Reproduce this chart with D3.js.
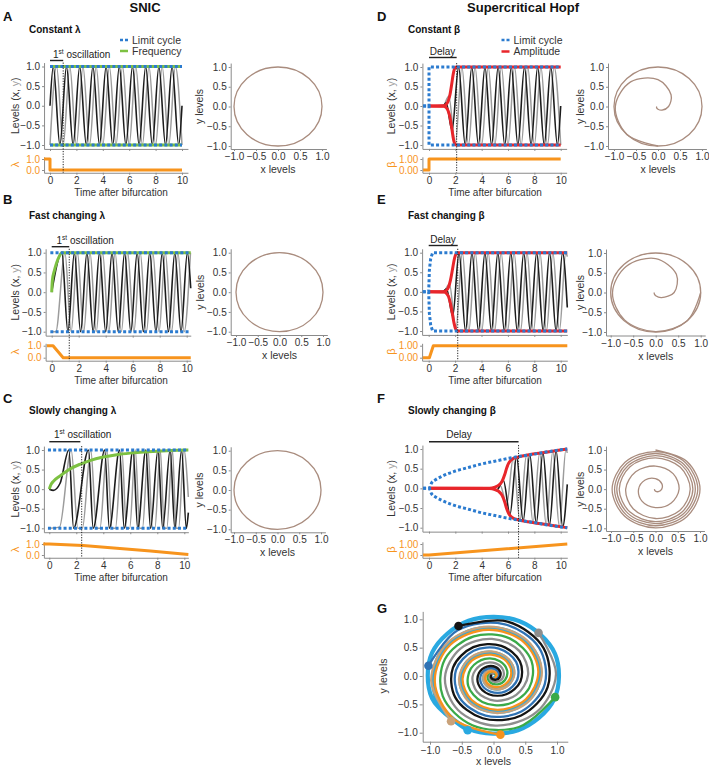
<!DOCTYPE html>
<html><head><meta charset="utf-8">
<script src="https://cdn.jsdelivr.net/npm/d3@7"></script>
<style>body{margin:0;background:#fff}</style>
</head><body><svg id="c" width="709" height="766" xmlns="http://www.w3.org/2000/svg"></svg>
<script>
// ---------------- DATA ----------------
const timeTicks = [0, 2, 4, 6, 8, 10];
const levelTicks = [-1, -0.5, 0, 0.5, 1];
const subTicks = [0, 1];

// SNIC panel A (constant lambda)
const aX = [[0,0],[0.25,1],[0.75,-1],[1.25,1],[1.75,-1],[2.25,1],[2.75,-1],[3.25,1],[3.75,-1],[4.25,1],[4.75,-1],[5.25,1],[5.75,-1],[6.25,1],[6.75,-1],[7.25,1],[7.75,-1],[8.25,1],[8.75,-1],[9.25,1],[9.75,-1],[10,0]];
const aY = [[0,-1],[0.5,1],[1,-1],[1.5,1],[2,-1],[2.5,1],[3,-1],[3.5,1],[4,-1],[4.5,1],[5,-1],[5.5,1],[6,-1],[6.5,1],[7,-1],[7.5,1],[8,-1],[8.5,1],[9,-1],[9.5,1],[10,-1]];
const aFreq = [[0,1],[10,1]];
const aCycle = [[0,1],[10,1]];
const aLambda = [[-0.45,1],[0,1],[0,0],[10,0]];

// SNIC panel B (fast changing lambda)
const bX = [[0,0],[0.75,1],[1.2,-1],[1.68,1],[2.14,-1],[2.61,1],[3.07,-1],[3.54,1],[4.0,-1],[4.47,1],[4.93,-1],[5.4,1],[5.86,-1],[6.33,1],[6.79,-1],[7.26,1],[7.72,-1],[8.19,1],[8.65,-1],[9.12,1],[9.58,-1],[10.05,1],[10.3,0.1]];
const bY = [[0,-1],[0.3,-1],[0.98,1],[1.44,-1],[1.91,1],[2.37,-1],[2.84,1],[3.3,-1],[3.77,1],[4.23,-1],[4.7,1],[5.16,-1],[5.63,1],[6.09,-1],[6.56,1],[7.02,-1],[7.49,1],[7.95,-1],[8.42,1],[8.88,-1],[9.35,1],[9.81,-1],[10.28,1]];
const bFreq = [[0,0],[0.05,0.3],[0.2,0.55],[0.35,0.73],[0.55,0.9],[0.75,1],[10.3,1]];
const bCycle = [[-0.1,1],[10.3,1]];
const bLambda = [[-0.35,1],[0.1,1],[0.85,0],[10.3,0]];

// SNIC panel C (slowly changing lambda)
const cX = [[0,0],[0.3,-0.03],[0.8,0.15],[1.45,1],[1.8,-1],[2.9,1],[3.25,-1],[4.1,1],[4.45,-1],[5.2,1],[5.55,-1],[6.2,1],[6.55,-1],[7.15,1],[7.5,-1],[8.05,1],[8.4,-1],[8.95,1],[9.3,-1],[9.8,1],[10.15,-1],[10.3,-0.6]];
const cY = [[0,-1],[0.75,-0.97],[1.62,1],[2.12,-1],[2.45,-1],[3.07,1],[3.5,-1],[3.75,-1],[4.27,1],[4.65,-1],[4.9,-1],[5.37,1],[5.72,-1],[5.95,-1],[6.37,1],[6.7,-1],[6.9,-1],[7.32,1],[7.63,-1],[7.82,-1],[8.22,1],[8.52,-1],[8.7,-1],[9.12,1],[9.4,-1],[9.58,-1],[9.97,1],[10.3,-0.2]];
const cFreq = [[0,0],[0.1,0.1],[0.3,0.2],[0.8,0.34],[1.5,0.51],[2.3,0.64],[3,0.73],[4,0.82],[5,0.88],[6,0.92],[7,0.95],[8,0.97],[9,0.99],[10.3,1.0]];
const cCycle = [[-0.1,1],[10.3,1]];
const cLambda = [[-0.45,1],[0,0.99],[2.5,0.86],[5,0.62],[7.5,0.36],[10.3,0.04]];

// Hopf panel D (constant beta)
const dX = [[0,0],[1.1,0.01],[1.3,0.08],[1.75,-0.62],[2.25,1],[2.75,-1],[3.25,1],[3.75,-1],[4.25,1],[4.75,-1],[5.25,1],[5.75,-1],[6.25,1],[6.75,-1],[7.25,1],[7.75,-1],[8.25,1],[8.75,-1],[9.25,1],[9.75,-1],[10,0]];
const dY = [[0,0],[1.05,-0.01],[1.5,0.25],[2.0,-0.97],[2.5,1],[3,-1],[3.5,1],[4,-1],[4.5,1],[5,-1],[5.5,1],[6,-1],[6.5,1],[7,-1],[7.5,1],[8,-1],[8.5,1],[9,-1],[9.5,1],[10,-1]];
const dAmp = [[0,0],[1.1,0.005],[1.3,0.04],[1.45,0.12],[1.6,0.3],[1.72,0.55],[1.83,0.8],[1.93,0.95],[2.05,1],[10,1]];
const dCycle = [[-0.45,0],[0,0],[0,1],[10,1]];
const dBeta = [[-0.45,0],[0,0],[0,1],[10,1]];

// Hopf panel E (fast changing beta)
const eX = [[0,0],[1.1,0.01],[1.35,0.08],[1.82,-0.62],[2.3,1],[2.79,-1],[3.28,1],[3.77,-1],[4.26,1],[4.75,-1],[5.24,1],[5.73,-1],[6.22,1],[6.71,-1],[7.2,1],[7.69,-1],[8.18,1],[8.67,-1],[9.16,1],[9.65,-1],[10.14,1],[10.5,-0.4]];
const eY = [[0,0],[1.1,-0.01],[1.57,0.2],[2.06,-0.95],[2.55,1],[3.04,-1],[3.53,1],[4.02,-1],[4.51,1],[5.0,-1],[5.49,1],[5.98,-1],[6.47,1],[6.96,-1],[7.45,1],[7.94,-1],[8.43,1],[8.92,-1],[9.41,1],[9.9,-1],[10.39,1],[10.5,0.9]];
const eAmp = [[0,0],[1.15,0.005],[1.35,0.04],[1.5,0.12],[1.65,0.3],[1.8,0.57],[1.92,0.8],[2.03,0.94],[2.15,1],[10.5,1]];
const eCycle = [[-0.45,0],[0,0],[0.05,0.55],[0.15,0.85],[0.3,1],[10.5,1]];
const eBeta = [[-0.45,0],[0.05,0],[0.35,1],[10.5,1]];

// Hopf panel F (slowly changing beta)
const fX = [[0,0],[4.6,0.005],[5.15,-0.04],[5.65,0.2],[6.15,-0.66],[6.65,0.8],[7.15,-0.83],[7.65,0.86],[8.15,-0.88],[8.65,0.91],[9.15,-0.93],[9.65,0.96],[10.15,-0.98],[10.5,0.1]];
const fY = [[0,0],[4.85,-0.01],[5.4,0.08],[5.9,-0.4],[6.4,0.77],[6.9,-0.82],[7.4,0.85],[7.9,-0.87],[8.4,0.9],[8.9,-0.92],[9.4,0.94],[9.9,-0.97],[10.4,0.99],[10.5,0.9]];
const fAmp = [[0,0],[4.6,0.005],[5.0,0.03],[5.3,0.08],[5.55,0.18],[5.75,0.35],[5.9,0.52],[6.05,0.64],[6.2,0.71],[6.4,0.76],[6.8,0.8],[7.5,0.85],[8.5,0.9],[9.5,0.95],[10.5,1.0]];
const fCycle = [[-0.45,0],[0,0],[0.2,0.14],[0.5,0.22],[1,0.31],[1.5,0.38],[2,0.44],[3,0.53],[4,0.62],[5,0.69],[6,0.76],[7,0.82],[8,0.87],[9,0.93],[10,0.98],[10.5,1.0]];
const fBeta = [[-0.45,0],[0,0.01],[10.5,1.0]];

// markers (dotted line time) and 1st oscillation / delay bar end
const markerTimes = {A:1.0, B:1.3, C:2.4, D:2.1, E:2.2, F:6.8};
const barEnds = {A:1.0, B:1.3, C:2.3, D:2.1, E:2.2, F:6.8};

// phase portraits: limit-cycle radius, spirals as [angle in degrees, radius]
const limitRadius = 1;
const spiralD = [[180,0.03],[225,0.045],[270,0.07],[315,0.13],[360,0.24],[405,0.42],[450,0.68],[495,0.88],[540,0.97],[585,1.0],[630,1.0]];
const spiralE = [[180,0.03],[225,0.045],[270,0.08],[315,0.18],[360,0.41],[405,0.65],[450,0.86],[495,0.93],[540,0.96],[585,0.98],[630,0.99],[675,1.0],[720,1.0]];
const spiralF = [[180,0.02],[225,0.03],[270,0.05],[315,0.09],[360,0.14],[405,0.2],[450,0.27],[495,0.33],[540,0.38],[585,0.43],[630,0.47],[675,0.5],[720,0.53],[765,0.56],[810,0.59],[855,0.63],[900,0.67],[945,0.71],[990,0.75],[1035,0.77],[1080,0.78],[1125,0.79],[1170,0.8],[1215,0.81],[1260,0.815],[1305,0.82],[1350,0.83],[1395,0.835],[1440,0.84],[1485,0.85],[1530,0.855],[1575,0.86],[1620,0.87],[1665,0.875],[1710,0.88],[1755,0.89],[1800,0.895],[1845,0.9],[1890,0.91],[1935,0.915],[1980,0.92],[2025,0.93],[2070,0.935],[2115,0.94],[2160,0.95],[2205,0.955],[2250,0.96],[2295,0.97],[2340,0.975],[2385,0.98],[2430,0.99],[2475,0.995],[2520,1.0],[2565,1.0],[2610,1.0]];

// panel G: trajectories from several starting points (start angle, deg); radius per 45 deg clockwise step
const gNames = ['cyan','tan','green','steel','orange','grey','black'];
const gStartAngles = [247, 230, -21, 170, 276, 47, 122];
const gRadii = [1.04,0.985,0.93,0.875,0.82,0.765,0.71,0.655,0.6,0.545,0.49,0.435,0.38,0.33,0.28,0.235,0.195,0.16,0.128,0.1,0.078,0.06,0.047,0.038];
const gRadiiCyan = [1.04,1.045,1.05,1.05,1.05,1.045,1.04,1.03,1.01,0.98,0.93,0.875,0.82,0.765,0.71,0.655,0.6,0.545,0.49,0.435,0.38,0.33,0.28,0.235,0.195,0.16,0.128,0.1,0.078,0.06,0.047,0.038];

// ---------------- STYLE ----------------
const FONT = 'Arial, "Liberation Sans", Helvetica, sans-serif';
const COL = {blue:'#2b7bcf', green:'#7dc142', red:'#e8262b', orange:'#f7941d', black:'#1c1c1c', grey:'#9c9c9c',
  brown:'#a98c7e', axis:'#8a8a8a', text:'#333333'};
const G_COL = {cyan:'#29a9e1', tan:'#c9a27a', green:'#3aaa49', steel:'#2f72b4', orange:'#f7931e', grey:'#8e8e8e', black:'#141414'};

const svg = d3.select('#c');

function txt(x, y, s, o = {}) {
  const t = svg.append('text').attr('x', x).attr('y', y).text(s)
    .attr('font-family', FONT).attr('font-size', o.size || 10)
    .attr('fill', o.fill || COL.text).attr('text-anchor', o.anchor || 'start');
  if (o.bold) t.attr('font-weight', 'bold');
  return t;
}
function vtxt(x, y, s, o = {}) {
  const t = svg.append('text').attr('transform', `translate(${x},${y}) rotate(-90)`).text(s)
    .attr('font-family', FONT).attr('font-size', o.size || 10.5)
    .attr('fill', o.fill || COL.text).attr('text-anchor', 'middle');
  return t;
}
function styleAxis(sel, labelColor) {
  sel.attr('font-family', FONT).attr('font-size', 10);
  sel.select('.domain').attr('stroke', COL.axis).attr('stroke-width', 1);
  sel.selectAll('.tick line').attr('stroke', COL.axis);
  sel.selectAll('.tick text').attr('fill', labelColor || COL.text);
}
function ext(scale, lo, hi) { return scale.copy().domain([lo, hi]).range([scale(lo), scale(hi)]); }

// ---------------- TIME PANELS ----------------
function drawTime(p, d) {
  const xs = d3.scaleLinear().domain([0, 10]).range([p.x0, p.x10]);
  const yT = d3.scaleLinear().domain([-1, 1]).range([p.yM1, p.y1]);
  const yS = d3.scaleLinear().domain([0, 1]).range([p.s0, p.s1]);
  const xAx = ext(xs, p.tMin, p.tMax);
  const left = xs(p.tMin);

  styleAxis(svg.append('g').attr('transform', `translate(${left},0)`)
    .call(d3.axisLeft(ext(yT, -1.1, 1.1)).tickValues(levelTicks).tickFormat(d3.format('.1f')).tickSize(2).tickPadding(2).tickSizeOuter(0)));
  styleAxis(svg.append('g').attr('transform', `translate(0,${yT(-1.1)})`)
    .call(d3.axisBottom(xAx).tickValues(timeTicks).tickFormat(() => '').tickSize(2).tickSizeOuter(0)));
  styleAxis(svg.append('g').attr('transform', `translate(${left},0)`)
    .call(d3.axisLeft(ext(yS, -0.25, 1.2)).tickValues(subTicks).tickFormat(d3.format(p.subFmt)).tickSize(2).tickPadding(2).tickSizeOuter(0)), COL.orange);
  styleAxis(svg.append('g').attr('transform', `translate(0,${yS(-0.25)})`)
    .call(d3.axisBottom(xAx).tickValues(timeTicks).tickFormat(d3.format('d')).tickSize(2).tickPadding(2).tickSizeOuter(0)));

  const lm = (ys, s) => d3.line().x(v => xs(v[0])).y(v => ys(s * v[1])).curve(d3.curveMonotoneX);
  const ll = (ys, s) => d3.line().x(v => xs(v[0])).y(v => ys(s * v[1]));
  const path = (data, gen, stroke, w, dash) => {
    const el = svg.append('path').datum(data).attr('d', gen).attr('fill', 'none')
      .attr('stroke', stroke).attr('stroke-width', w).attr('stroke-linejoin', 'round');
    if (dash) el.attr('stroke-dasharray', dash);
    return el;
  };

  path(d.y, lm(yT, 1), COL.grey, 1.5);
  path(d.x, lm(yT, 1), COL.black, 1.6);
  if (d.freq) {
    path(d.freq, lm(yT, 1), COL.green, 3);
    if (d.freqMirror) path(d.freq, lm(yT, -1), COL.green, 3);
  }
  if (d.amp) {
    path(d.amp, lm(yT, 1), COL.red, 3);
    path(d.amp, lm(yT, -1), COL.red, 3);
  }
  const lcGen = d.cycleSmooth ? lm : ll;
  path(d.cycle, lcGen(yT, 1), COL.blue, 3, '3,2.2');
  path(d.cycle, lcGen(yT, -1), COL.blue, 3, '3,2.2');
  path(d.sub, ll(yS, 1), COL.orange, 3);

  svg.append('line').attr('x1', xs(d.marker)).attr('x2', xs(d.marker))
    .attr('y1', yT(1.1)).attr('y2', yS(-0.25))
    .attr('stroke', '#222').attr('stroke-width', 1).attr('stroke-dasharray', '1.2,1.4');

  svg.append('line').attr('x1', xs(0)).attr('x2', xs(d.barEnd)).attr('y1', p.barY).attr('y2', p.barY)
    .attr('stroke', '#222').attr('stroke-width', 1.4);

  if (p.barText === 'osc') {
    const t = txt(p.barTx, p.barTy, '', {size: 10, fill: '#222'});
    t.append('tspan').text('1');
    t.append('tspan').text('st').attr('font-size', 6.5).attr('dy', -4);
    t.append('tspan').text(' oscillation').attr('dy', 4);
  } else {
    txt(p.barTx, p.barTy, 'Delay', {size: 10, fill: '#222', anchor: 'middle'});
  }

  const lv = svg.append('text').attr('transform', `translate(${p.levX},${(p.y1 + p.yM1) / 2}) rotate(-90)`)
    .attr('font-family', FONT).attr('font-size', 10.5).attr('fill', COL.text).attr('text-anchor', 'middle');
  lv.append('tspan').text('Levels (x, ');
  lv.append('tspan').text('y').attr('fill', '#a0a0a0');
  lv.append('tspan').text(')');
  vtxt(p.levX, (p.s0 + p.s1) / 2, p.subName, {fill: COL.orange, size: 11});
  txt(p.timeX, yS(-0.25) + 23, 'Time after bifurcation', {size: 10, anchor: 'middle'});
}

// ---------------- PHASE PANELS ----------------
function drawPhase(p, d) {
  const xp = d3.scaleLinear().domain([-1, 1]).range([p.xm1, p.xp1]);
  const yp = d3.scaleLinear().domain([-1, 1]).range([p.ym1, p.yp1]);
  const yAx = yp.copy().domain([yp.invert(p.axisY), 1.1]).range([p.axisY, yp(1.1)]);
  const xAx = xp.copy().domain([xp.invert(p.axisX), 1.1]).range([p.axisX, xp(1.1)]);
  styleAxis(svg.append('g').attr('transform', `translate(${p.axisX},0)`)
    .call(d3.axisLeft(yAx).tickValues(levelTicks).tickFormat(d3.format('.1f')).tickSize(2).tickPadding(2).tickSizeOuter(0)));
  styleAxis(svg.append('g').attr('transform', `translate(0,${p.axisY})`)
    .call(d3.axisBottom(xAx).tickValues(levelTicks).tickFormat(d3.format('.1f')).tickSize(2).tickPadding(2).tickSizeOuter(0)));
  txt((p.xm1 + p.xp1) / 2, p.axisY + 24, 'x levels', {size: 10.5, anchor: 'middle'});
  vtxt(p.ylabX, (p.ym1 + p.yp1) / 2, 'y levels', {size: 10.5});

  const g = svg.append('g');
  if (d.spiral) {
    const gen = d3.line()
      .x(v => xp(v[1] * Math.cos(v[0] * Math.PI / 180)))
      .y(v => yp(v[1] * Math.sin(v[0] * Math.PI / 180)))
      .curve(d3.curveCatmullRom.alpha(0.5));
    g.append('path').datum(d.spiral).attr('d', gen).attr('fill', 'none')
      .attr('stroke', COL.brown).attr('stroke-width', 1.3);
  }
  if (d.circle) {
    g.append('ellipse').attr('cx', xp(0)).attr('cy', yp(0))
      .attr('rx', xp(limitRadius) - xp(0)).attr('ry', yp(0) - yp(limitRadius))
      .attr('fill', 'none').attr('stroke', COL.brown).attr('stroke-width', 1.3);
  }
}

// ---------------- PANEL G ----------------
function drawG(p) {
  const xp = d3.scaleLinear().domain([-1, 1]).range([p.xm1, p.xp1]);
  const yp = d3.scaleLinear().domain([-1, 1]).range([p.ym1, p.yp1]);
  const yAx = yp.copy().domain([yp.invert(p.axisY), 1.14]).range([p.axisY, yp(1.14)]);
  const xAx = xp.copy().domain([xp.invert(p.axisX), 1.17]).range([p.axisX, xp(1.17)]);
  styleAxis(svg.append('g').attr('transform', `translate(${p.axisX},0)`)
    .call(d3.axisLeft(yAx).tickValues(levelTicks).tickFormat(d3.format('.1f')).tickSize(3).tickPadding(2).tickSizeOuter(0)));
  styleAxis(svg.append('g').attr('transform', `translate(0,${p.axisY})`)
    .call(d3.axisBottom(xAx).tickValues(levelTicks).tickFormat(d3.format('.1f')).tickSize(3).tickPadding(2).tickSizeOuter(0)));
  txt((p.xm1 + p.xp1) / 2, p.axisY + 23, 'x levels', {size: 10.5, anchor: 'middle'});
  vtxt(p.ylabX, (p.ym1 + p.yp1) / 2, 'y levels', {size: 10.5});

  const traj = gNames.map((n, i) => {
    const radii = n === 'cyan' ? gRadiiCyan : gRadii;
    return {name: n, pts: radii.map((r, k) => [gStartAngles[i] - 45 * k, r])};
  });
  const gen = d3.line()
    .x(v => xp(v[1] * Math.cos(v[0] * Math.PI / 180)))
    .y(v => yp(v[1] * Math.sin(v[0] * Math.PI / 180)))
    .curve(d3.curveCatmullRom.alpha(0.5));
  traj.forEach(t => {
    svg.append('path').datum(t.pts).attr('d', gen).attr('fill', 'none')
      .attr('stroke', G_COL[t.name]).attr('stroke-width', t.name === 'cyan' ? 4.2 : 2.3)
      .attr('stroke-linecap', 'round');
  });
  traj.forEach(t => {
    const v = t.pts[0];
    svg.append('circle').attr('cx', xp(v[1] * Math.cos(v[0] * Math.PI / 180)))
      .attr('cy', yp(v[1] * Math.sin(v[0] * Math.PI / 180))).attr('r', 4.3)
      .attr('fill', G_COL[t.name]);
  });
}

// ---------------- LAYOUT ----------------
txt(145, 12, 'SNIC', {size: 13, bold: true, anchor: 'middle', fill: '#111'});
txt(523, 12, 'Supercritical Hopf', {size: 13, bold: true, anchor: 'middle', fill: '#111'});
[['A',3,21],['B',3,204],['C',3,403],['D',377,21],['E',377,204],['F',377,403],['G',377,613]].forEach(l =>
  txt(l[1], l[2], l[0], {size: 13, bold: true, fill: '#111'}));
txt(29, 33, 'Constant λ', {size: 10, bold: true, fill: '#111'});
txt(29, 219, 'Fast changing λ', {size: 10, bold: true, fill: '#111'});
txt(29, 414, 'Slowly changing λ', {size: 10, bold: true, fill: '#111'});
txt(408, 33, 'Constant β', {size: 10, bold: true, fill: '#111'});
txt(408, 219, 'Fast changing β', {size: 10, bold: true, fill: '#111'});
txt(408, 414, 'Slowly changing β', {size: 10, bold: true, fill: '#111'});

function legendLine(x, y, color, dash) {
  const l = svg.append('line').attr('x1', x).attr('x2', x + 8).attr('y1', y).attr('y2', y)
    .attr('stroke', color).attr('stroke-width', 2.5);
  if (dash) l.attr('stroke-dasharray', dash);
}
legendLine(120, 40, COL.blue, '3,2');
txt(132, 43.5, 'Limit cycle', {size: 10.5});
legendLine(120, 51, COL.green);
txt(132, 55, 'Frequency', {size: 10.5});
legendLine(501.5, 40, COL.blue, '3,2');
txt(513.5, 43.5, 'Limit cycle', {size: 10.5});
legendLine(501.5, 51.5, COL.red);
txt(513.5, 55, 'Amplitude', {size: 10.5});

drawTime({x0:50, x10:182, tMin:-0.45, tMax:10.45, y1:66.5, yM1:145, s1:159, s0:170, subFmt:'.1f', subName:'λ',
  barY:60.5, barText:'osc', barTx:53, barTy:57.5, levX:19, timeX:121},
  {x:aX, y:aY, freq:aFreq, freqMirror:true, cycle:aCycle, sub:aLambda, marker:markerTimes.A, barEnd:barEnds.A});
drawTime({x0:51.7, x10:186.7, tMin:-0.45, tMax:10.3, y1:252.7, yM1:331.7, s1:345.7, s0:357.7, subFmt:'.1f', subName:'λ',
  barY:246.7, barText:'osc', barTx:56.5, barTy:243.5, levX:19, timeX:121},
  {x:bX, y:bY, freq:bFreq, cycle:bCycle, sub:bLambda, marker:markerTimes.B, barEnd:barEnds.B});
drawTime({x0:49.3, x10:184.3, tMin:-0.4, tMax:10.3, y1:450, yM1:528.3, s1:544, s0:555, subFmt:'.1f', subName:'λ',
  barY:441.7, barText:'osc', barTx:54, barTy:438, levX:19, timeX:121},
  {x:cX, y:cY, freq:cFreq, cycle:cCycle, sub:cLambda, marker:markerTimes.C, barEnd:barEnds.C});
drawTime({x0:429, x10:560.7, tMin:-0.5, tMax:10.45, y1:67, yM1:145, s1:159, s0:170, subFmt:'.2f', subName:'β',
  barY:57.5, barText:'delay', barTx:442.5, barTy:54.5, levX:395, timeX:495},
  {x:dX, y:dY, amp:dAmp, cycle:dCycle, sub:dBeta, marker:markerTimes.D, barEnd:barEnds.D});
drawTime({x0:428.7, x10:560.7, tMin:-0.5, tMax:10.5, y1:252.7, yM1:331, s1:345.7, s0:357.7, subFmt:'.2f', subName:'β',
  barY:245.5, barText:'delay', barTx:443, barTy:242.5, levX:395, timeX:495},
  {x:eX, y:eY, amp:eAmp, cycle:eCycle, sub:eBeta, marker:markerTimes.E, barEnd:barEnds.E});
drawTime({x0:429, x10:560.7, tMin:-0.5, tMax:10.5, y1:449, yM1:527.7, s1:544, s0:555, subFmt:'.2f', subName:'β',
  barY:441.7, barText:'delay', barTx:459, barTy:438, levX:395, timeX:495},
  {x:fX, y:fY, amp:fAmp, cycle:fCycle, cycleSmooth:true, sub:fBeta, marker:markerTimes.F, barEnd:barEnds.F});

drawPhase({xm1:234, xp1:322, ym1:146, yp1:67, axisX:230.7, axisY:149, ylabX:203}, {circle:true});
drawPhase({xm1:236, xp1:323, ym1:331.7, yp1:252.7, axisX:230.7, axisY:335, ylabX:204}, {circle:true});
drawPhase({xm1:234, xp1:321, ym1:529.3, yp1:450.7, axisX:230.7, axisY:532.3, ylabX:203}, {circle:true});
drawPhase({xm1:614, xp1:702, ym1:146, yp1:67, axisX:608, axisY:149, ylabX:584}, {spiral:spiralD, circle:true});
drawPhase({xm1:610.7, xp1:700.7, ym1:332, yp1:253, axisX:606, axisY:335.5, ylabX:584}, {spiral:spiralE, circle:true});
drawPhase({xm1:611, xp1:700, ym1:528.3, yp1:450, axisX:606, axisY:531, ylabX:584}, {spiral:spiralF});

drawG({xm1:430, xp1:557, ym1:732.7, yp1:619.3, axisX:422.7, axisY:741.7, ylabX:387});
</script></body></html>
